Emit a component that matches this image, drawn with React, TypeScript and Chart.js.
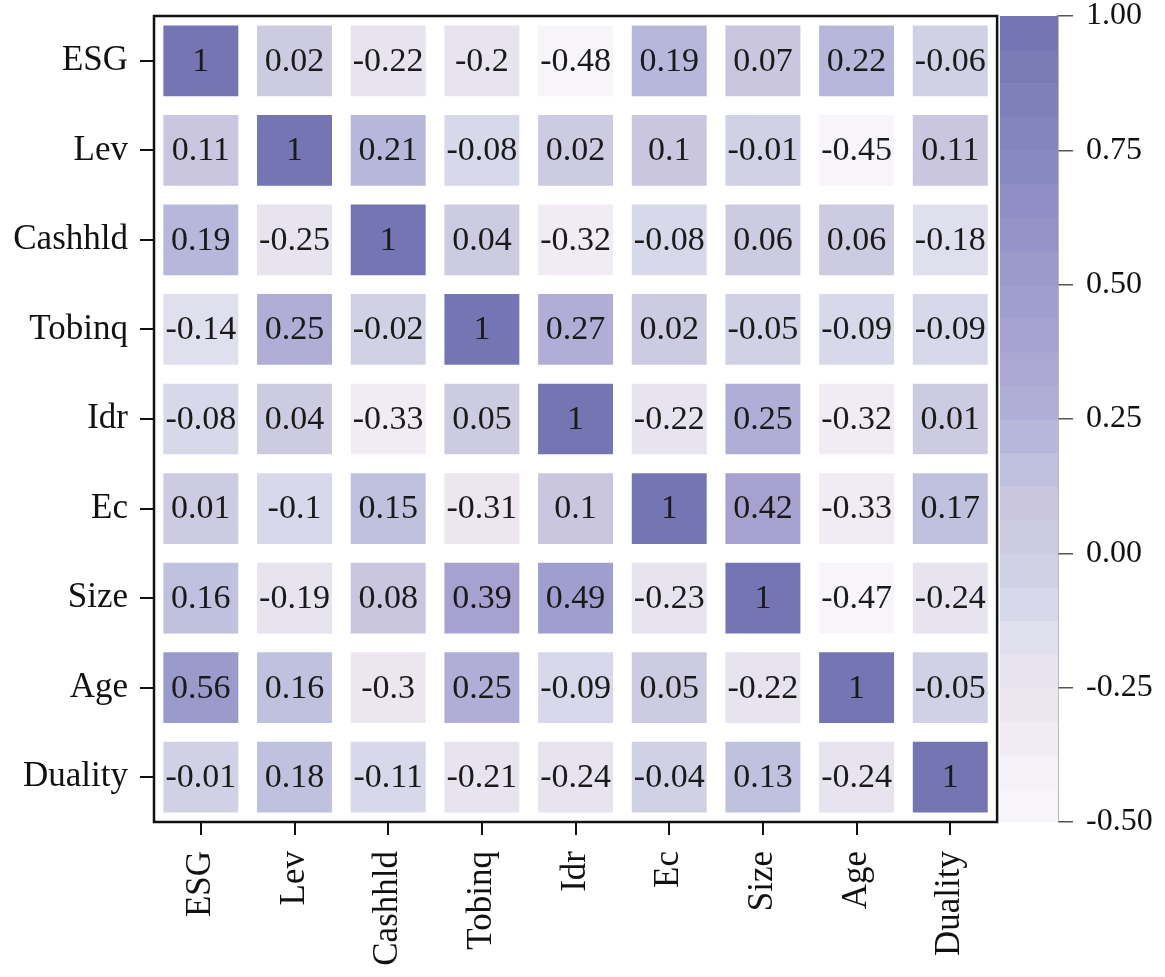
import { useEffect, useRef } from "react";
import { Chart, registerables } from "chart.js";

Chart.register(...registerables);

// Variable names (rows top to bottom, columns left to right)
const rowLabels = ["ESG", "Lev", "Cashhld", "Tobinq", "Idr", "Ec", "Size", "Age", "Duality"];
const colLabels = ["ESG", "Lev", "Cashhld", "Tobinq", "Idr", "Ec", "Size", "Age", "Duality"];

// Correlation values, one array per row
const esgRow = [1, 0.02, -0.22, -0.2, -0.48, 0.19, 0.07, 0.22, -0.06];
const levRow = [0.11, 1, 0.21, -0.08, 0.02, 0.1, -0.01, -0.45, 0.11];
const cashhldRow = [0.19, -0.25, 1, 0.04, -0.32, -0.08, 0.06, 0.06, -0.18];
const tobinqRow = [-0.14, 0.25, -0.02, 1, 0.27, 0.02, -0.05, -0.09, -0.09];
const idrRow = [-0.08, 0.04, -0.33, 0.05, 1, -0.22, 0.25, -0.32, 0.01];
const ecRow = [0.01, -0.1, 0.15, -0.31, 0.1, 1, 0.42, -0.33, 0.17];
const sizeRow = [0.16, -0.19, 0.08, 0.39, 0.49, -0.23, 1, -0.47, -0.24];
const ageRow = [0.56, 0.16, -0.3, 0.25, -0.09, 0.05, -0.22, 1, -0.05];
const dualityRow = [-0.01, 0.18, -0.11, -0.21, -0.24, -0.04, 0.13, -0.24, 1];

const matrix = [esgRow, levRow, cashhldRow, tobinqRow, idrRow, ecRow, sizeRow, ageRow, dualityRow];

// Colour bar range and ticks
const colorbarTicks = [-0.5, -0.25, 0, 0.25, 0.5, 0.75, 1.0];
const CB_MIN = -0.5;
const CB_MAX = 1.0;
const CB_STEPS = 24;

// colormap stops: white -> lavender -> slate purple (with a slight pink tint)
const cmapStops: [number, number[]][] = [
  [-0.5, [248, 247, 251]],
  [-0.4, [244, 241, 247]],
  [-0.3, [238, 231, 239]],
  [-0.2, [229, 227, 240]],
  [-0.1, [217, 217, 235]],
  [0.0, [205, 205, 227]],
  [0.08, [206, 199, 223]],
  [0.15, [193, 193, 223]],
  [0.25, [178, 178, 217]],
  [0.4, [168, 161, 207]],
  [0.5, [157, 157, 205]],
  [0.75, [134, 134, 192]],
  [1.0, [114, 114, 178]],
];

function colorFor(v: number) {
  // quantize like the stepped colour bar
  const step = (CB_MAX - CB_MIN) / CB_STEPS;
  let idx = Math.floor((v - CB_MIN) / step);
  if (idx >= CB_STEPS) idx = CB_STEPS - 1;
  if (idx < 0) idx = 0;
  const q = CB_MIN + (idx + 0.5) * step;
  return interp(q);
}

function interp(v: number) {
  for (let k = 0; k < cmapStops.length - 1; k++) {
    const [a, ca] = cmapStops[k];
    const [b, cb] = cmapStops[k + 1];
    if (v >= a && v <= b) {
      const t = (v - a) / (b - a);
      const c = ca.map((x, n) => Math.round(x + (cb[n] - x) * t));
      return `rgb(${c[0]}, ${c[1]}, ${c[2]})`;
    }
  }
  const last = v < 0 ? cmapStops[0][1] : cmapStops[cmapStops.length - 1][1];
  return `rgb(${last[0]}, ${last[1]}, ${last[2]})`;
}

const SERIF = "'Liberation Serif', 'Times New Roman', serif";
const CB_LEFT = 8.53; // x position (in column units) where the colour bar starts
const X_MAX = 9.15;

const heatmapPlugin = {
  id: "heatmapExtras",
  beforeDatasetsDraw(chart: any) {
    const { ctx, scales } = chart;
    const x = scales.x;
    const cb = scales.cb;
    const left = x.getPixelForValue(CB_LEFT);
    const right = chart.chartArea.right;
    const step = (CB_MAX - CB_MIN) / CB_STEPS;
    ctx.save();
    for (let k = 0; k < CB_STEPS; k++) {
      const v0 = CB_MIN + k * step;
      const v1 = v0 + step;
      const y0 = cb.getPixelForValue(v0);
      const y1 = cb.getPixelForValue(v1);
      ctx.fillStyle = interp(v0 + step / 2);
      ctx.fillRect(left, y1, right - left, y0 - y1 + 0.5);
    }
    ctx.restore();
  },
  afterDatasetsDraw(chart: any) {
    const { ctx, scales, chartArea } = chart;
    ctx.save();
    ctx.font = `34px ${SERIF}`;
    ctx.fillStyle = "#1a1a1a";
    ctx.textAlign = "center";
    ctx.textBaseline = "middle";
    chart.data.datasets.forEach((_: any, i: number) => {
      const meta = chart.getDatasetMeta(i);
      meta.data.forEach((bar: any, j: number) => {
        const { x, y, base } = bar.getProps(["x", "y", "base"], true);
        ctx.fillText(String(matrix[i][j]), x, (y + base) / 2 + 1);
      });
    });
    // frame around the heatmap
    const l = scales.x.getPixelForValue(-0.5);
    const r = scales.x.getPixelForValue(8.5);
    ctx.strokeStyle = "#111";
    ctx.lineWidth = 2.5;
    ctx.strokeRect(l, chartArea.top, r - l, chartArea.bottom - chartArea.top);
    ctx.restore();
  },
};

export default function App() {
  const chartRef = useRef<HTMLCanvasElement>(null);
  const chartInstance = useRef<Chart | null>(null);

  useEffect(() => {
    document.body.style.margin = "0";
    if (!chartRef.current) return;
    if (chartInstance.current) chartInstance.current.destroy();
    const ctx = chartRef.current.getContext("2d");
    if (!ctx) return;

    const datasets = matrix.map((row, i) => ({
      type: "bar" as const,
      label: rowLabels[i],
      data: row.map((_, j) => ({ x: j, y: [i - 0.395, i + 0.395] })),
      backgroundColor: row.map(colorFor),
      borderWidth: 0,
      grouped: false,
      barPercentage: 0.8,
      categoryPercentage: 1,
      xAxisID: "x",
      yAxisID: "y",
    }));

    chartInstance.current = new Chart(ctx, {
      type: "bar",
      data: { datasets } as any,
      options: {
        responsive: false,
        animation: false,
        layout: { padding: 0 },
        plugins: {
          legend: { display: false },
          tooltip: { enabled: false },
        },
        scales: {
          x: {
            type: "linear",
            position: "bottom",
            offset: false,
            min: -0.5,
            max: X_MAX,
            afterBuildTicks: (axis: any) => {
              axis.ticks = colLabels.map((_, j) => ({ value: j }));
            },
            afterFit: (axis: any) => {
              axis.height = 155;
            },
            border: { display: false },
            grid: {
              display: true,
              offset: false,
              drawOnChartArea: false,
              drawTicks: true,
              tickLength: 13,
              color: "#111",
              lineWidth: 2,
            },
            ticks: {
              autoSkip: false,
              minRotation: 90,
              maxRotation: 90,
              padding: 16,
              color: "#111",
              font: { family: SERIF, size: 35 },
              callback: (v: any) => colLabels[v] ?? "",
            },
          },
          y: {
            type: "linear",
            position: "left",
            reverse: true,
            min: -0.5,
            max: 8.5,
            afterBuildTicks: (axis: any) => {
              axis.ticks = rowLabels.map((_, i) => ({ value: i }));
            },
            afterFit: (axis: any) => {
              axis.width = 154;
              axis.paddingTop = 0;
              axis.paddingBottom = 0;
            },
            border: { display: false },
            grid: {
              display: true,
              drawOnChartArea: false,
              drawTicks: true,
              tickLength: 14,
              color: "#111",
              lineWidth: 2,
            },
            ticks: {
              padding: 12,
              color: "#111",
              font: { family: SERIF, size: 35 },
              callback: (v: any) => rowLabels[v] ?? "",
            },
          },
          cb: {
            type: "linear",
            position: "right",
            min: CB_MIN,
            max: CB_MAX,
            afterBuildTicks: (axis: any) => {
              axis.ticks = colorbarTicks.map((v) => ({ value: v }));
            },
            afterFit: (axis: any) => {
              axis.width = 107;
              axis.paddingTop = 16;
              axis.paddingBottom = 16;
            },
            border: { display: true, color: "#777", width: 1.5 },
            grid: {
              display: true,
              drawOnChartArea: false,
              drawTicks: true,
              tickLength: 15,
              color: "#555",
              lineWidth: 1.5,
            },
            ticks: {
              padding: 13,
              color: "#111",
              font: { family: SERIF, size: 32, lineHeight: 1 },
              callback: (v: any) => Number(v).toFixed(2),
            },
          },
        },
      },
      plugins: [heatmapPlugin],
    });

    return () => {
      if (chartInstance.current) {
        chartInstance.current.destroy();
        chartInstance.current = null;
      }
    };
  }, []);

  return (
    <div style={{ width: 1165, height: 977, background: "#fff" }}>
      <canvas ref={chartRef} width={1165} height={977}></canvas>
    </div>
  );
}
